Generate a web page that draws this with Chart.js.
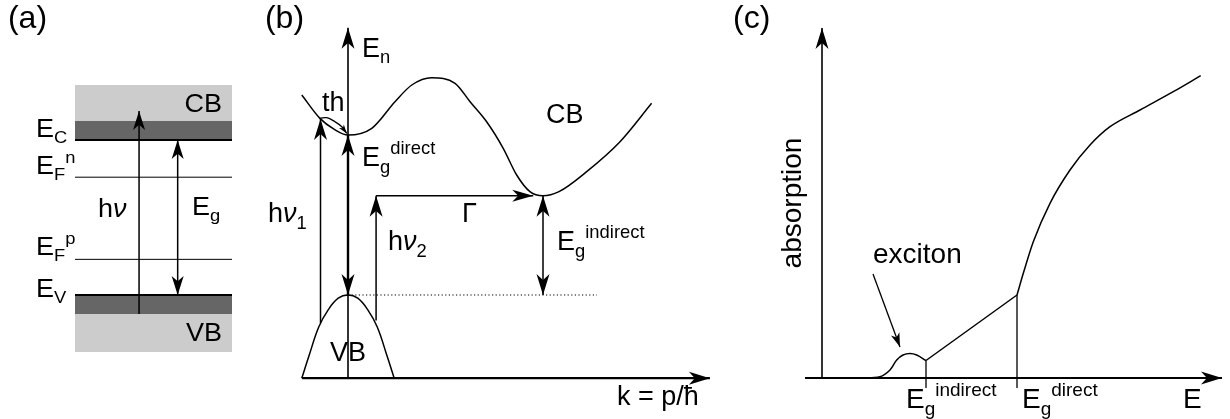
<!DOCTYPE html>
<html>
<head>
<meta charset="utf-8">
<script src="https://cdn.jsdelivr.net/npm/chart.js@4.4.1/dist/chart.umd.min.js"></script>
<style>
html, body { margin: 0; padding: 0; background: #fff; }
#wrap { position: relative; width: 1230px; height: 419px; overflow: hidden; }
canvas { position: absolute; top: 0; }
</style>
</head>
<body>
<div id="wrap">
  <canvas id="panelA" width="250" height="419" style="left:0px"></canvas>
  <canvas id="panelB" width="470" height="419" style="left:250px"></canvas>
  <canvas id="panelC" width="510" height="419" style="left:720px"></canvas>
</div>
<script>
// ---------- (a) band diagram: energy in units of Eg, slab position 0..1
const slabX = [0, 1];
const cbLight = [1.123, 1.355];
const cbEdge = [1.0, 1.123];
const vbEdge = [-0.123, 0.0];
const vbLight = [-0.368, -0.123];
const levelEC = 1.0;
const levelEV = 0.0;
const levelEFn = 0.76;
const levelEFp = 0.23;
const photonA = [[0.408, -0.123], [0.408, 1.187]];
const gapA = [[0.654, 1.0], [0.654, 0.0]];

// ---------- (b) E(k) dispersion
const cbK = [-0.237, -0.144, -0.07, 0, 0.122, 0.241, 0.327, 0.429, 0.549, 0.626, 0.711, 0.796, 0.865, 0.933, 1.0, 1.082, 1.224, 1.395, 1.557];
const cbE = [1.25, 1.104, 1.035, 1.0, 1.042, 1.208, 1.3125, 1.358, 1.323, 1.208, 1.083, 0.917, 0.75, 0.646, 0.62, 0.646, 0.771, 0.958, 1.198];
const vbK = [-0.237, -0.2, -0.15, -0.1, -0.05, 0, 0.05, 0.1, 0.15, 0.2, 0.237];
const vbE = [-0.52, -0.38, -0.2, -0.09, -0.02, 0, -0.02, -0.09, -0.2, -0.38, -0.52];
const thK = [-0.144, -0.109, -0.067, -0.032, -0.006];
const thE = [1.104, 1.108, 1.083, 1.052, 1.01];
const kAxis = [-0.236, 1.856];
const eAxisB = [-0.52, 1.67];
const hv1 = [[-0.141, -0.175], [-0.141, 1.10]];
const directGap = [[0, 1.0], [0, 0]];
const hv2 = [[0.144, -0.16], [0.144, 0.62]];
const phonon = [[0.144, 0.62], [0.95, 0.62]];
const indirectGap = [[1.0, 0.62], [1.0, 0]];
const vbTopLine = [[0, 0], [1.277, 0]];

// ---------- (c) absorption spectrum
const absE1 = [0.38, 0.58, 0.68, 0.747, 0.81, 0.88, 0.947, 1.04];
const absA1 = [0, 0.013, 0.08, 0.18, 0.23, 0.245, 0.23, 0.175];
const absE2 = [1.04, 1.95];
const absA2 = [0.175, 0.83];
const absE3 = [1.95, 2.013, 2.113, 2.28, 2.48, 2.68, 2.88, 3.18, 3.513, 3.787];
const absA3 = [0.83, 1.047, 1.363, 1.747, 2.08, 2.33, 2.513, 2.68, 2.863, 3.023];
const gapMarks = [1.04, 1.95];
const eAxisC = [-0.17, 4.0];
const aAxisC = [0, 3.5];
const excitonPointer = [[0.51, 1.04], [0.78, 0.31]];

const FONT = '"Liberation Sans", Arial, Helvetica, sans-serif';

function zip(xs, ys) { return xs.map((x, i) => ({ x: x, y: ys[i] })); }
function seg(p) { return p.map(q => ({ x: q[0], y: q[1] })); }

function line(points, extra) {
  return Object.assign({
    data: points, showLine: true, pointRadius: 0, borderColor: '#000',
    borderWidth: 1.5, fill: false, tension: 0, order: 1
  }, extra || {});
}

// arrow heads at the ends of datasets flagged with `arrow`
const arrowPlugin = {
  id: 'arrowHeads',
  afterDatasetsDraw(chart) {
    const ctx = chart.ctx;
    chart.data.datasets.forEach((ds, i) => {
      if (!ds.arrow) return;
      const pts = chart.getDatasetMeta(i).data;
      const n = pts.length;
      const L = ds.headLen || 20, W = ds.headWid || 12;
      const head = (a, b) => {
        const ang = Math.atan2(b.y - a.y, b.x - a.x);
        ctx.save();
        ctx.translate(b.x, b.y);
        ctx.rotate(ang);
        ctx.beginPath();
        ctx.moveTo(0, 0);
        ctx.lineTo(-L, -W / 2);
        ctx.lineTo(-L * 0.72, 0);
        ctx.lineTo(-L, W / 2);
        ctx.closePath();
        ctx.fillStyle = '#000';
        ctx.fill();
        ctx.restore();
      };
      if (ds.arrow === 'end' || ds.arrow === 'both') head(pts[n - 2], pts[n - 1]);
      if (ds.arrow === 'start' || ds.arrow === 'both') head(pts[1], pts[0]);
    });
  }
};

function fontFor(kind, size) {
  const s = (kind === 'sub' || kind === 'sup') ? size * 0.68 : size;
  return (kind === 'i' ? 'italic ' : '') + s.toFixed(1) + 'px ' + FONT;
}

function drawRich(ctx, x, y, parts, size, align, rot, hs) {
  ctx.save();
  ctx.translate(x, y);
  if (rot) ctx.rotate(rot);
  ctx.scale(hs, 1);
  ctx.fillStyle = '#000';
  ctx.textBaseline = 'alphabetic';
  ctx.textAlign = 'left';
  let w = 0;
  parts.forEach(p => { ctx.font = fontFor(p[1], size); w += ctx.measureText(p[0]).width; });
  let cx = align === 'right' ? -w : (align === 'center' ? -w / 2 : 0);
  parts.forEach(p => {
    ctx.font = fontFor(p[1], size);
    const dy = p[1] === 'sub' ? size * 0.24 : (p[1] === 'sup' ? -size * 0.44 : 0);
    ctx.fillText(p[0], cx, dy);
    cx += ctx.measureText(p[0]).width;
  });
  ctx.restore();
}

function textPlugin(items, size, hs) {
  return {
    id: 'panelText',
    afterDraw(chart) {
      const sx = chart.scales.x, sy = chart.scales.y;
      items.forEach(it => {
        drawRich(chart.ctx, sx.getPixelForValue(it.x), sy.getPixelForValue(it.y),
          it.parts, it.size || size, it.align || 'left', it.rot || 0, it.hs || hs || 1);
      });
    }
  };
}

// geo: page pixel of data origin and pixels per unit
function panel(id, geo, datasets, labels, size, hs) {
  const cv = document.getElementById(id);
  const W = cv.width, H = cv.height;
  const x0 = geo.x0 - geo.left;
  return new Chart(cv, {
    type: 'scatter',
    data: { datasets: datasets },
    options: {
      responsive: false,
      animation: false,
      layout: { padding: 0 },
      plugins: { legend: { display: false }, tooltip: { enabled: false } },
      scales: {
        x: { type: 'linear', display: false, min: -x0 / geo.xs, max: (W - x0) / geo.xs },
        y: { type: 'linear', display: false, min: (geo.y0 - H) / geo.ys, max: geo.y0 / geo.ys }
      }
    },
    plugins: [arrowPlugin, textPlugin(labels, size, hs)]
  });
}

// ---------- panel (a)
const band = (lo, hi, color) => line(zip(slabX, [hi, hi]), {
  fill: { value: lo }, backgroundColor: color, borderColor: 'rgba(0,0,0,0)', borderWidth: 0, order: 5
});
panel('panelA', { left: 0, x0: 75, xs: 157, y0: 295, ys: 155 }, [
  band(cbLight[0], cbLight[1], '#cccccc'),
  band(cbEdge[0], cbEdge[1], '#666666'),
  band(vbEdge[0], vbEdge[1], '#666666'),
  band(vbLight[0], vbLight[1], '#cccccc'),
  line(zip(slabX, [levelEC, levelEC]), { borderWidth: 2 }),
  line(zip(slabX, [levelEV, levelEV]), { borderWidth: 2 }),
  line(zip(slabX, [levelEFn, levelEFn]), { borderWidth: 1 }),
  line(zip(slabX, [levelEFp, levelEFp]), { borderWidth: 1 }),
  line(seg(photonA), { arrow: 'end', borderWidth: 1.5, headLen: 19, headWid: 12 }),
  line(seg(gapA), { arrow: 'both', borderWidth: 1.5, headLen: 19, headWid: 12 })
], [
  { x: -0.427, y: 1.723, parts: [['(a)', 'n']], size: 32, hs: 1 },
  { x: 0.936, y: 1.181, parts: [['CB', 'n']], align: 'right' },
  { x: 0.936, y: -0.297, parts: [['VB', 'n']], align: 'right' },
  { x: -0.248, y: 1.019, parts: [['E', 'n'], ['C', 'sub']] },
  { x: -0.248, y: 0.781, parts: [['E', 'n'], ['F', 'sub'], ['n', 'sup']] },
  { x: 0.146, y: 0.503, parts: [['h', 'n'], ['\u03bd', 'i']] },
  { x: 0.745, y: 0.516, parts: [['E', 'n'], ['g', 'sub']] },
  { x: -0.248, y: 0.258, parts: [['E', 'n'], ['F', 'sub'], ['p', 'sup']] },
  { x: -0.248, y: -0.013, parts: [['E', 'n'], ['V', 'sub']] }
], 25, 1.08);

// ---------- panel (b)
panel('panelB', { left: 250, x0: 348, xs: 195, y0: 295, ys: 160 }, [
  line(zip(kAxis, [eAxisB[0], eAxisB[0]]), { arrow: 'end', borderWidth: 2.2, headLen: 21, headWid: 13 }),
  line(zip([0, 0], eAxisB), { arrow: 'end', borderWidth: 1.6, headLen: 21, headWid: 13 }),
  line(zip(cbK, cbE), { cubicInterpolationMode: 'monotone', borderWidth: 1.5 }),
  line(zip(vbK, vbE), { tension: 0.4, borderWidth: 1.5 }),
  line(zip(thK, thE), { tension: 0.4, borderWidth: 1.3, arrow: 'end', headLen: 9, headWid: 6 }),
  line(seg(vbTopLine), { borderWidth: 1.2, borderDash: [1.2, 2.4] }),
  line(seg(hv1), { arrow: 'end', borderWidth: 1.5, headLen: 21, headWid: 13 }),
  line(seg(directGap), { arrow: 'both', borderWidth: 2.4, headLen: 21, headWid: 13 }),
  line(seg(hv2), { arrow: 'end', borderWidth: 1.5, headLen: 21, headWid: 13 }),
  line(seg(phonon), { arrow: 'end', borderWidth: 1.5, headLen: 21, headWid: 12 }),
  line(seg(indirectGap), { arrow: 'both', borderWidth: 1.5, headLen: 21, headWid: 13 })
], [
  { x: -0.426, y: 1.669, parts: [['(b)', 'n']], size: 32 },
  { x: 0.072, y: 1.4875, parts: [['E', 'n'], ['n', 'sub']] },
  { x: -0.133, y: 1.15, parts: [['th', 'n']] },
  { x: 0.072, y: 0.806, parts: [['E', 'n'], ['g', 'sub'], ['direct', 'sup']] },
  { x: 1.015, y: 1.075, parts: [['CB', 'n']] },
  { x: -0.41, y: 0.456, parts: [['h', 'n'], ['\u03bd', 'i'], ['1', 'sub']] },
  { x: 0.585, y: 0.456, parts: [['\u0393', 'n']] },
  { x: 0.205, y: 0.281, parts: [['h', 'n'], ['\u03bd', 'i'], ['2', 'sub']] },
  { x: 1.072, y: 0.281, parts: [['E', 'n'], ['g', 'sub'], ['indirect', 'sup']] },
  { x: -0.092, y: -0.4125, parts: [['VB', 'n']] },
  { x: 1.379, y: -0.6875, parts: [['k = p/\u0127', 'n']] }
], 27, 1);

// ---------- panel (c)
panel('panelC', { left: 720, x0: 822, xs: 100, y0: 378, ys: 100 }, [
  line(zip(eAxisC, [0, 0]), { arrow: 'end', borderWidth: 2.2, headLen: 21, headWid: 13 }),
  line(zip([0, 0], aAxisC), { arrow: 'end', borderWidth: 1.6, headLen: 21, headWid: 13 }),
  line(zip(absE1, absA1), { tension: 0.35, borderWidth: 1.5 }),
  line(zip(absE2, absA2), { borderWidth: 1.5 }),
  line(zip(absE3, absA3), { cubicInterpolationMode: 'monotone', borderWidth: 1.5 }),
  line(zip([gapMarks[0], gapMarks[0]], [absA1[absA1.length - 1], -0.1]), { borderWidth: 1.3 }),
  line(zip([gapMarks[1], gapMarks[1]], [absA3[0], -0.1]), { borderWidth: 1.3 }),
  line(seg(excitonPointer), { arrow: 'end', borderWidth: 1.3, headLen: 14, headWid: 9 })
], [
  { x: -0.89, y: 3.5, parts: [['(c)', 'n']], size: 32 },
  { x: -0.21, y: 1.75, parts: [['absorption', 'n']], align: 'center', rot: -Math.PI / 2 },
  { x: 0.51, y: 1.15, parts: [['exciton', 'n']] },
  { x: 0.84, y: -0.30, parts: [['E', 'n'], ['g', 'sub'], ['indirect', 'sup']] },
  { x: 2.0, y: -0.30, parts: [['E', 'n'], ['g', 'sub'], ['direct', 'sup']] },
  { x: 3.61, y: -0.30, parts: [['E', 'n']] }
], 28, 1);
</script>
</body>
</html>
